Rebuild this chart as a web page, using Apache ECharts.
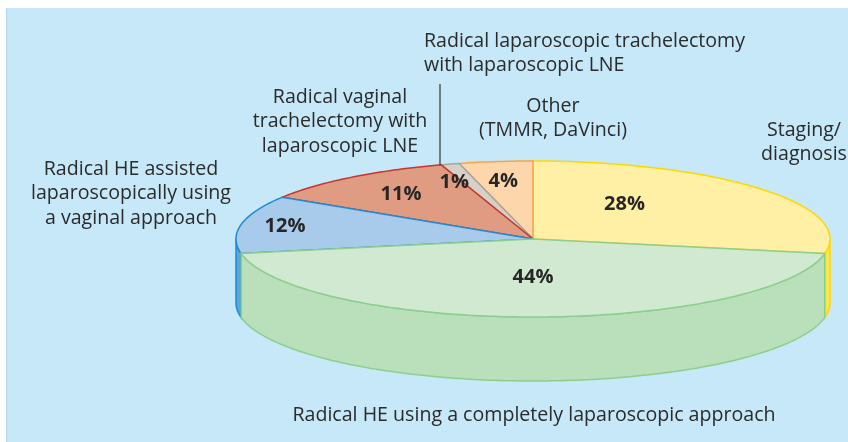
<!DOCTYPE html>
<html>
<head>
<meta charset="utf-8">
<script src="https://cdn.jsdelivr.net/npm/echarts@6/dist/echarts.min.js"></script>
<style>
html, body { margin: 0; padding: 0; background: #fff; }
#main { width: 848px; height: 442px; }
</style>
</head>
<body>
<div id="main"></div>
<script>
// 数据
var categories = [
	'Staging/\ndiagnosis',
	'Other\n(TMMR, DaVinci)',
	'Radical laparoscopic trachelectomy\nwith laparoscopic LNE',
	'Radical vaginal\ntrachelectomy with\nlaparoscopic LNE',
	'Radical HE assisted\nlaparoscopically using\na vaginal approach',
	'Radical HE using a completely laparoscopic approach'
];
var values = [28, 4, 1, 11, 12, 44];
var percentLabels = ['28%', '4%', '1%', '11%', '12%', '44%'];

// 颜色（顶面、边框、侧面）
var topColors = ['#fff0a6', '#fed6ab', '#d6d0c9', '#e09c82', '#a8cbeb', '#d1e9d1'];
var lineColors = ['#ffd800', '#f7a541', '#a8a39e', '#c8352a', '#1d8cd6', '#8ccf8d'];
var sideColors = ['#fde64b', '#f9b870', '#b8b2ab', '#c9735a', '#5aa7e0', '#badfbb'];
// 百分比标签位置（相对椭圆半径的系数 x, y）
var pctFactor = [[0.4, 0.7], [0.8, 0.74], [0.95, 0.76], [0.725, 0.725], [0.85, 0.85], [0.0, 0.49]];

// 椭圆饼图几何
var cx = 533, cy = 239, rx = 297, ry = 78, depth = 64;
var startAngle = -10.8;

var total = 0, cum = [];
for (var i = 0; i < values.length; i++) {
	cum.push(total);
	total += values[i];
}

function pt(a, dz) {
	var r = a * Math.PI / 180;
	return [cx + rx * Math.cos(r), cy - ry * Math.sin(r) + (dz || 0)];
}
function arc(a0, a1, dz) {
	var pts = [];
	var n = Math.max(2, Math.ceil(Math.abs(a1 - a0)));
	for (var k = 0; k <= n; k++) {
		pts.push(pt(a0 + (a1 - a0) * k / n, dz));
	}
	return pts;
}

function renderItem(params, api) {
	var i = params.dataIndex;
	var v = api.value(0);
	var a0 = startAngle + cum[i] / total * 360;
	var a1 = a0 + v / total * 360;
	var children = [];
	// 侧面（只画前半部分）
	[-360, 0].forEach(function(k) {
		var s0 = Math.max(a0, 180 + k), s1 = Math.min(a1, 360 + k);
		if (s1 > s0) {
			var pts = arc(s0, s1, 0).concat(arc(s1, s0, depth));
			children.push({
				type : 'polygon',
				shape : { points : pts },
				style : { fill : sideColors[i], stroke : lineColors[i], lineWidth : 1.5 }
			});
		}
	});
	// 顶面
	children.push({
		type : 'polygon',
		shape : { points : [[cx, cy]].concat(arc(a0, a1, 0)) },
		style : { fill : topColors[i], stroke : lineColors[i], lineWidth : 1.5, lineJoin : 'round' }
	});
	// 百分比
	var mid = (a0 + a1) / 2 * Math.PI / 180;
	children.push({
		type : 'text',
		z2 : 100,
		x : cx + rx * pctFactor[i][0] * Math.cos(mid),
		y : cy - ry * pctFactor[i][1] * Math.sin(mid),
		style : {
			text : percentLabels[i],
			font : 'bold 20px "Open Sans"',
			fill : '#262626',
			align : 'center',
			verticalAlign : 'middle'
		}
	});
	return { type : 'group', children : children };
}

var labelFont = '19.6px "Open Sans"';
function label(text, x, y, align) {
	return {
		type : 'text',
		x : x,
		y : y,
		z : 10,
		style : {
			text : text,
			font : labelFont,
			fill : '#2b2b2b',
			align : align || 'center',
			verticalAlign : 'top',
			lineHeight : 24.5
		}
	};
}

var chart = echarts.init(document.getElementById('main'));
chart.setOption({
	backgroundColor : '#ffffff',
	animation : false,
	graphic : [
		{ type : 'rect', z : -10, shape : { x : 6, y : 8, width : 842, height : 434 }, style : { fill : '#c6e8f8' } },
		{ type : 'line', z : -9, shape : { x1 : 6.5, y1 : 8, x2 : 6.5, y2 : 442 }, style : { stroke : '#b5d6ee', lineWidth : 1 } },
		{ type : 'line', z : 5, shape : { x1 : 440, y1 : 84, x2 : 440, y2 : 165 }, style : { stroke : '#333', lineWidth : 1.2 } },
		label(categories[2], 424, 29, 'left'),
		label(categories[1], 553, 94),
		label(categories[0], 804, 118),
		label(categories[3], 340, 85),
		label(categories[4], 131, 157),
		label(categories[5], 534, 403)
	],
	series : [ {
		type : 'custom',
		coordinateSystem : 'none',
		renderItem : renderItem,
		data : values
	} ]
});
</script>
</body>
</html>
